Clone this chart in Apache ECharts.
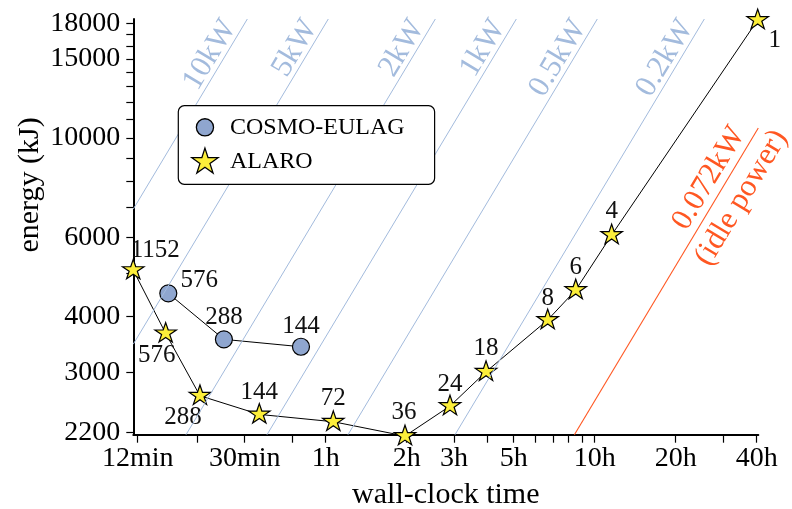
<!DOCTYPE html>
<html>
<head>
<meta charset="utf-8">
<script src="https://cdn.jsdelivr.net/npm/echarts@6/dist/echarts.min.js"></script>
<style>
  html, body { margin: 0; padding: 0; background: #fff; }
  #chart { width: 792px; height: 509px; }
</style>
</head>
<body>
<div id="chart"></div>
<script>
// ALARO runs: node count, wall-clock time (hours), energy (kJ)
const alaroNodes = [1152, 576, 288, 144, 72, 36, 24, 18, 8, 6, 4, 1];
const alaroHours = [0.1925, 0.2541, 0.3408, 0.5664, 1.067, 1.971, 2.897, 3.944, 6.686, 8.50, 11.56, 40.35];
const alaroEnergy = [5070, 3664, 2660, 2417, 2328, 2163, 2523, 3009, 3925, 4577, 6072, 18308];

// COSMO-EULAG runs
const cosmoNodes = [576, 288, 144];
const cosmoHours = [0.2599, 0.4183, 0.8091];
const cosmoEnergy = [4500, 3553, 3421];

// constant-power guide lines (kW)
const powerLevels = [10, 5, 2, 1, 0.5, 0.2];
const powerNames = ['10kW', '5kW', '2kW', '1kW', '0.5kW', '0.2kW'];
const idlePower = 0.072;
const idleNames = ['0.072kW', '(idle power)'];
const idleNameAtHours = 30;

// axis ranges and ticks
const timeRange = [0.1926, 40.56];      // hours
const energyRange = [2178, 18400];      // kJ
const timeTicks = [0.2, 1 / 3, 0.5, 0.75, 1, 2, 3, 4, 5, 6, 7, 8, 9, 10, 20, 30, 40];
const timeLabelValues = [0.2, 0.5, 1, 2, 3, 5, 10, 20, 40];
const timeLabelText = ['12min', '30min', '1h', '2h', '3h', '5h', '10h', '20h', '40h'];
const energyTicks = [2200, 3000, 4000, 5000, 6000, 7000, 8000, 9000, 10000, 11000, 12000, 13000, 14000, 15000, 16000, 17000, 18000];
const energyLabelValues = [2200, 3000, 4000, 6000, 10000, 15000, 18000];
const energyLabelText = ['2200', '3000', '4000', '6000', '10000', '15000', '18000'];

// label placement around each marker (px)
const alaroLabelShift = [[22, -19], [-9, 23], [-17, 23], [0, -21], [0, -22], [-1, -23], [0, -21], [0, -22], [0, -20], [0, -22], [0, -22], [17, 22]];
const cosmoLabelShift = [[31, -13], [0, -22], [0, -20]];

const FONT = '"Liberation Serif", "DejaVu Serif", serif';
const BLUE = '#a3bbdd';
const ORANGE = '#ff5722';
const STAR_FILL = '#fcee3a';
const CIRCLE_FILL = '#8fa6cf';

const L = Math.log10;

// five-pointed star outline centred on its geometric centre
function starPath(R) {
  const pts = [];
  for (let i = 0; i < 10; i++) {
    const r = i % 2 ? R * 0.382 : R;
    const a = -Math.PI / 2 + i * Math.PI / 5;
    pts.push((r * Math.cos(a)).toFixed(3) + ',' + (r * Math.sin(a)).toFixed(3));
  }
  return 'M' + pts.join('L') + 'Z';
}
const STAR_R = 11.3;
const starSymbol = 'path://' + starPath(10);
const starSize = [1.902 * STAR_R, 1.809 * STAR_R];

// legend icons share one padded box so both keep their own size
const legendPad = 'M-17,-14.5M20,14.5';
const legendStar = 'path://' + legendPad + starPath(13.8);
const legendCircle = 'path://' + legendPad + 'M-8.6,0A8.6,8.6,0,1,0,8.6,0A8.6,8.6,0,1,0,-8.6,0Z';

function lookup(v, values, texts) {
  for (let i = 0; i < values.length; i++) {
    if (Math.abs(L(values[i]) - v) < 1e-6) return texts[i];
  }
  return '';
}

function seriesData(nodes, hours, energy, shifts) {
  return nodes.map((n, i) => ({
    name: String(n),
    value: [L(hours[i]), L(energy[i])],
    label: { offset: shifts[i] }
  }));
}

// segment of E = P * t clipped to the plotting window
function powerSegment(kW, tFrom, tTo) {
  const k = kW * 3600;
  let t0 = tFrom, e0 = k * t0;
  if (e0 < energyRange[0]) { t0 = energyRange[0] / k; e0 = energyRange[0]; }
  let t1 = tTo, e1 = k * t1;
  if (e1 > energyRange[1]) { t1 = energyRange[1] / k; e1 = energyRange[1]; }
  return [[L(t0), L(e0)], [L(t1), L(e1)]];
}

const guideLines = powerLevels.map((p, i) => {
  const seg = powerSegment(p, timeRange[0], timeRange[1]);
  return [{
    coord: seg[0],
    lineStyle: { color: BLUE, width: 1, type: 'solid' },
    label: {
      show: true, formatter: powerNames[i], position: 'insideEndTop', distance: [12, -2],
      color: BLUE, fontSize: 31, fontFamily: FONT
    }
  }, { coord: seg[1] }];
});

const idleSeg = powerSegment(idlePower, timeRange[0], timeRange[1]);
guideLines.push([{
  coord: idleSeg[0],
  lineStyle: { color: ORANGE, width: 1.1, type: 'solid' },
  label: { show: false }
}, { coord: idleSeg[1] }]);

const idleTextSeg = powerSegment(idlePower, idleNameAtHours / 1.3, idleNameAtHours * 1.3);
[['insideMiddleTop', [0, 1]], ['insideMiddleBottom', [0, 6]]].forEach((cfg, i) => {
  guideLines.push([{
    coord: idleTextSeg[0],
    lineStyle: { color: 'rgba(0,0,0,0)', width: 0 },
    label: {
      show: true, formatter: idleNames[i], position: cfg[0], distance: cfg[1],
      color: ORANGE, fontSize: 31, fontFamily: FONT, opacity: 1
    }
  }, { coord: idleTextSeg[1] }]);
});

const chart = echarts.init(document.getElementById('chart'), null, { renderer: 'canvas' });

chart.setOption({
  animation: false,
  backgroundColor: '#fff',
  grid: { left: 133.3, right: 33.7, top: 19, bottom: 74.3, containLabel: false, outerBoundsMode: 'none' },
  xAxis: {
    type: 'value',
    min: L(timeRange[0]), max: L(timeRange[1]),
    splitLine: { show: false },
    axisLine: { show: true, onZero: false, lineStyle: { color: '#000', width: 2 } },
    axisTick: { show: true, customValues: timeTicks.map(v => L(v)), length: 8, lineStyle: { color: '#000', width: 1.2 } },
    axisLabel: {
      customValues: timeLabelValues.map(v => L(v)),
      formatter: v => lookup(v, timeLabelValues, timeLabelText),
      margin: 10, fontSize: 28, fontFamily: FONT, color: '#000'
    },
    name: 'wall-clock time', nameLocation: 'middle', nameGap: 45,
    nameTextStyle: { fontSize: 30, fontFamily: FONT, color: '#000' }
  },
  yAxis: {
    type: 'value',
    min: L(energyRange[0]), max: L(energyRange[1]),
    splitLine: { show: false },
    axisLine: { show: true, onZero: false, lineStyle: { color: '#000', width: 2 } },
    axisTick: { show: true, customValues: energyTicks.map(v => L(v)), length: 7, lineStyle: { color: '#000', width: 1.2 } },
    axisLabel: {
      customValues: energyLabelValues.map(v => L(v)),
      formatter: v => lookup(v, energyLabelValues, energyLabelText),
      margin: 13, fontSize: 28, fontFamily: FONT, color: '#000'
    }
  },
  graphic: [{
    type: 'text', x: 30, y: 185, rotation: Math.PI / 2, z: 10,
    style: {
      text: 'energy (kJ)', fill: '#000', fontSize: 30, fontFamily: FONT,
      align: 'center', verticalAlign: 'middle'
    }
  }],
  legend: {
    orient: 'vertical', left: 178.3, top: 105.7,
    padding: [6.5, 30, 7.2, 9], itemGap: 4.3, itemWidth: 37, itemHeight: 29,
    borderColor: '#000', borderWidth: 1.2, borderRadius: 6, backgroundColor: '#fff',
    selectedMode: false, z: 20,
    textStyle: { fontSize: 24, fontFamily: FONT, color: '#000' },
    data: [
      { name: 'COSMO-EULAG', icon: legendCircle, itemStyle: { color: CIRCLE_FILL, borderColor: '#000', borderWidth: 1.3 } },
      { name: 'ALARO', icon: legendStar, itemStyle: { color: STAR_FILL, borderColor: '#000', borderWidth: 1.3 } }
    ]
  },
  series: [
    {
      name: 'power', type: 'line', data: [], z: 1, silent: true,
      markLine: { silent: true, symbol: ['none', 'none'], animation: false, data: guideLines }
    },
    {
      name: 'COSMO-EULAG', type: 'line', z: 3, clip: false, showAllSymbol: true,
      data: seriesData(cosmoNodes, cosmoHours, cosmoEnergy, cosmoLabelShift),
      symbol: 'circle', symbolSize: 17,
      lineStyle: { color: '#000', width: 1 },
      itemStyle: { color: CIRCLE_FILL, borderColor: '#000', borderWidth: 1.2 },
      label: { show: true, position: 'inside', formatter: '{b}', fontSize: 25, fontFamily: FONT, color: '#111' }
    },
    {
      name: 'ALARO', type: 'line', z: 4, clip: false, showAllSymbol: true,
      data: seriesData(alaroNodes, alaroHours, alaroEnergy, alaroLabelShift),
      symbol: starSymbol, symbolSize: starSize, symbolKeepAspect: true,
      symbolOffset: [0, -0.0955 * STAR_R],
      lineStyle: { color: '#000', width: 1 },
      itemStyle: { color: STAR_FILL, borderColor: '#000', borderWidth: 1.2 },
      label: { show: true, position: 'inside', formatter: '{b}', fontSize: 25, fontFamily: FONT, color: '#111' }
    }
  ]
});
</script>
</body>
</html>
